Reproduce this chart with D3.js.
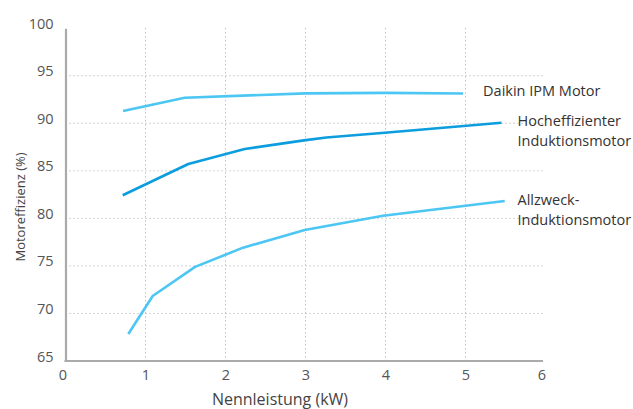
<!DOCTYPE html>
<html><head><meta charset="utf-8">
<script src="https://cdn.jsdelivr.net/npm/d3@7"></script>
<style>body{margin:0;background:#fff}svg{display:block}</style>
</head><body>
<svg id="c" width="633" height="409"></svg>
<script>
const xTicks = [0,1,2,3,4,5,6];
const yTicks = [65,70,75,80,85,90,95,100];
const seriesNames = ["Daikin IPM Motor","Hocheffizienter Induktionsmotor","Allzweck-Induktionsmotor"];
const daikinX = [0.72,1.49,3.0,4.0,4.97];
const daikinY = [91.3,92.68,93.15,93.2,93.13];
const hochX = [0.715,1.535,2.24,2.98,3.26,3.99,5.45];
const hochY = [82.43,85.72,87.3,88.2,88.5,89.0,90.06];
const allX = [0.785,1.09,1.62,2.22,2.99,3.97,5.49];
const allY = [67.84,71.84,74.9,76.92,78.78,80.28,81.83];
const xTitle = "Nennleistung (kW)";
const yTitle = "Motoreffizienz (%)";

const svg = d3.select("#c");
const font = "'Open Sans', sans-serif";
const x = d3.scaleLinear().domain([0,6]).range([65.5,545.5]);
const y = d3.scaleLinear().domain([65,100]).range([361,28.2]);

// grid
const g = svg.append("g");
g.selectAll("line.h").data(yTicks.filter(v=>v>65&&v<100)).join("line")
  .attr("x1",x(0)).attr("x2",x(6)-2).attr("y1",d=>y(d)).attr("y2",d=>y(d))
  .attr("stroke","#b5b5b5").attr("stroke-width",1).attr("stroke-dasharray","1.2,2.8");
g.selectAll("line.v").data(xTicks.filter(v=>v>0&&v<6)).join("line")
  .attr("y1",y(100)).attr("y2",y(65)).attr("x1",d=>x(d)).attr("x2",d=>x(d))
  .attr("stroke","#b5b5b5").attr("stroke-width",1).attr("stroke-dasharray","1.2,2.8");

// axes
const xAxis = svg.append("g").attr("transform",`translate(0,${y(65)})`)
  .call(d3.axisBottom(x).tickValues(xTicks).tickSize(0).tickPadding(9).tickFormat(d3.format("d")));
const yAxis = svg.append("g").attr("transform",`translate(${x(0)},0)`)
  .call(d3.axisLeft(y).tickValues(yTicks).tickSize(0).tickPadding(12).tickFormat(d3.format("d")));
[xAxis,yAxis].forEach(a=>{
  a.select(".domain").attr("stroke","#aaaaaa").attr("stroke-width",2.2);
  a.selectAll("text").attr("fill","#555").style("font-family",font).style("font-size","14.5px");
});
xAxis.select(".domain").attr("d",`M${x(0)-1},0H${x(6)-2.5}`);
yAxis.selectAll("text").attr("dy","0").attr("y",0);
xAxis.selectAll(".tick").filter(d=>d===0).select("text").attr("dx","-3");
xAxis.selectAll(".tick").filter(d=>d===6).select("text").attr("dx","-4");

// lines
const line = d3.line().x(d=>x(d[0])).y(d=>y(d[1]));
const data = [
  {xs:daikinX, ys:daikinY, color:"#4cc6f2"},
  {xs:hochX, ys:hochY, color:"#0c9ddf"},
  {xs:allX, ys:allY, color:"#4cc6f2"}
];
svg.selectAll("path.s").data(data).join("path")
  .attr("fill","none").attr("stroke",d=>d.color).attr("stroke-width",2.6)
  .attr("stroke-linejoin","round")
  .attr("d",d=>line(d.xs.map((v,i)=>[v,d.ys[i]])));

// labels
const lab = svg.append("g").style("font-family",font).style("font-size","14.5px").attr("fill","#333");
const labels = [
  {lines:[seriesNames[0]], xv:5.22, yv:93.4},
  {lines:["Hocheffizienter","Induktionsmotor"], xv:5.65, yv:90.2},
  {lines:["Allzweck-","Induktionsmotor"], xv:5.65, yv:81.9}
];
labels.forEach(l=>{
  const t = lab.append("text").attr("x",x(l.xv)).attr("y",y(l.yv)+5);
  l.lines.forEach((s,i)=>t.append("tspan").attr("x",x(l.xv)).attr("dy",i?19.5:0).text(s));
});

// titles
svg.append("text").attr("x",280).attr("y",405).attr("text-anchor","middle")
  .style("font-family",font).style("font-size","16px").attr("fill","#444").text(xTitle);
svg.append("text").attr("transform","translate(25,207) rotate(-90)").attr("text-anchor","middle")
  .style("font-family",font).style("font-size","13px").attr("fill","#444").text(yTitle);
</script>
</body></html>
